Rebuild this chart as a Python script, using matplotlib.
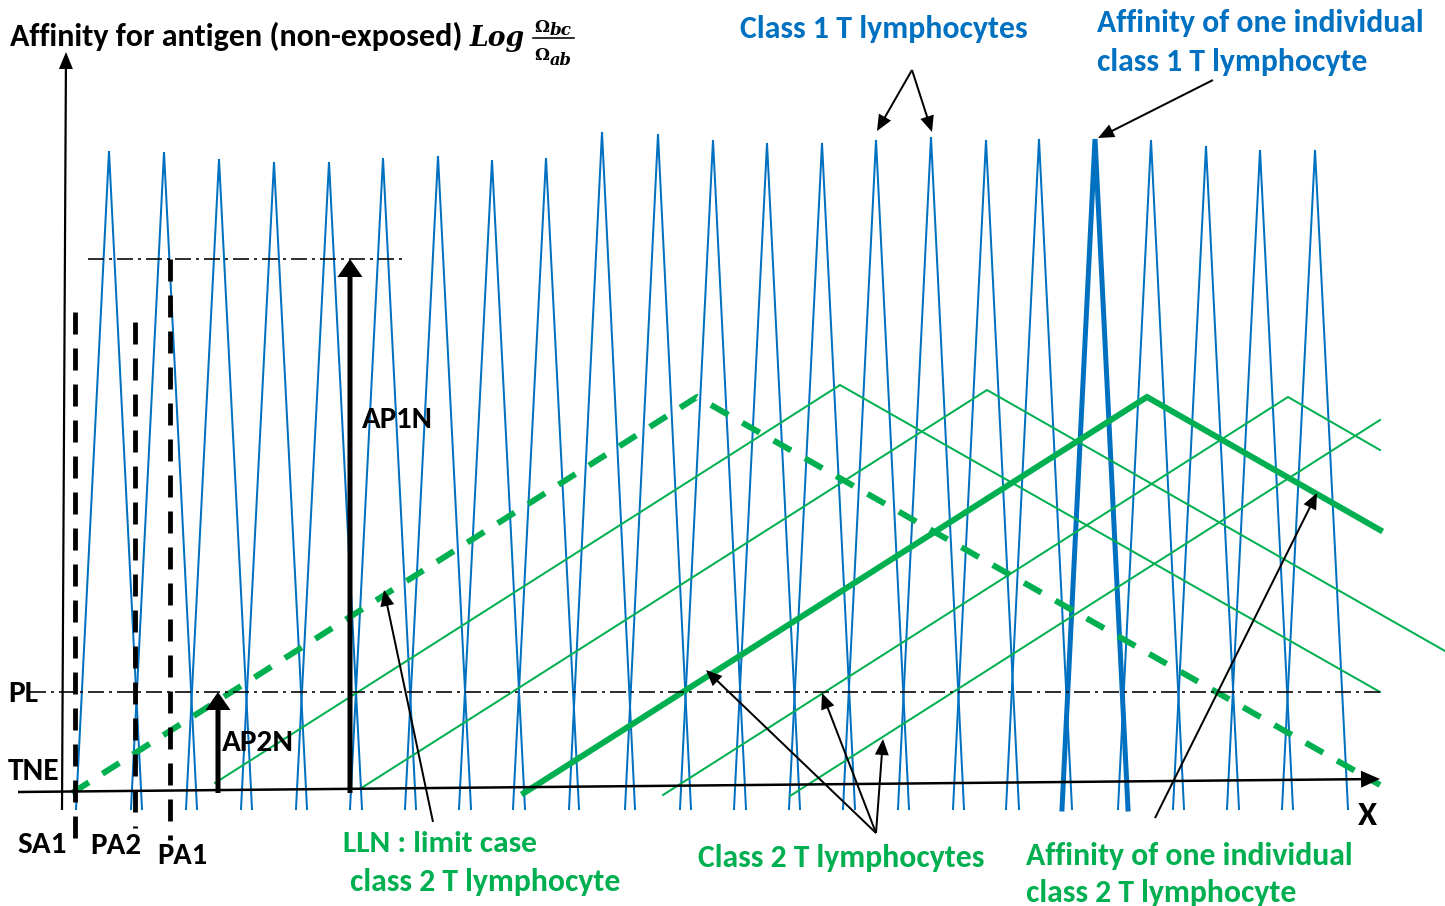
import matplotlib
matplotlib.use('Agg')
import matplotlib.pyplot as plt
from matplotlib import font_manager as fm

plt.rcParams['lines.scale_dashes'] = False

# ------------------------------------------------------------------ data
# class 1 T lymphocytes : narrow spikes (peak positions / peak heights, image units)
class1_peak_x = [109, 164, 219, 274, 329, 383, 438, 492, 546, 602, 658, 713,
                 767, 822, 876, 931, 986, 1039, 1095, 1151, 1206, 1260, 1315]
class1_peak_y = [151, 152, 159, 162, 162, 158, 156, 160, 158, 132, 134, 140,
                 143, 143, 140, 137, 140, 139, 139, 140, 146, 150, 150]
class1_individual = 18          # index of the highlighted individual
class1_base_y = 809
class1_base_halfwidth = 33

# class 2 T lymphocytes : broad tents
lln_x = [72, 697, 1380]
lln_y = [793, 397, 785]
class2_x = [[215, 840, 1380], [363, 987, 1445], [663, 1288, 1380], [790, 1380]]
class2_y = [[783, 385, 692], [787, 390, 651], [795, 397, 450], [796, 420]]
indiv2_x = [524, 1147, 1380]
indiv2_y = [793, 397, 530]

# levels
pl_level = 692
ap1n_level = 259
x_axis_x = [18, 1380]
x_axis_y = [792, 779]
y_axis_x = [62, 66]
y_axis_y = [810, 52]

# thresholds (vertical dashed)
thr_names = ['SA1', 'PA2', 'PA1']
thr_x = [75, 135, 170]
thr_top = [312, 322, 259]
thr_bottom = [842, 828, 840]

# AP arrows
ap_names = ['AP2N', 'AP1N']
ap_x = [218, 350]
ap_top = [pl_level, ap1n_level]

# annotation arrows (tail -> tip)
ann_tail = [(912, 70), (912, 70), (1213, 80), (433, 822),
            (876, 833), (876, 833), (876, 833), (1155, 818)]
ann_tip = [(877, 131), (932, 132), (1098, 138), (384, 590),
           (706, 670), (822, 693), (883, 739), (1317, 493)]

BLUE = '#0070C0'
GREEN = '#00B050'
PX = 0.72  # px -> pt at 100 dpi

avail = {f.name for f in fm.fontManager.ttflist}
SANS = 'Carlito' if 'Carlito' in avail else 'Lato'

fig = plt.figure(figsize=(14.45, 9.06), dpi=100)
ax = fig.add_axes([0, 0, 1, 1])
ax.set_xlim(0, 1445)
ax.set_ylim(906, 0)
ax.axis('off')

# class 1 spikes
for i, (px, py) in enumerate(zip(class1_peak_x, class1_peak_y)):
    lw = 5 if i == class1_individual else 2
    ax.plot([px - class1_base_halfwidth, px, px + class1_base_halfwidth],
            [class1_base_y, py, class1_base_y], color=BLUE, lw=lw * PX,
            solid_joinstyle='miter', zorder=2)

# class 2 tents
for xs, ys in zip(class2_x, class2_y):
    ax.plot(xs, ys, color=GREEN, lw=2 * PX, zorder=3, solid_joinstyle='miter')
ax.plot(indiv2_x, indiv2_y, color=GREEN, lw=6 * PX, zorder=3, solid_joinstyle='miter')
ax.plot(lln_x, lln_y, color=GREEN, lw=6 * PX, zorder=3,
        dashes=(20 * PX, 16 * PX))

# dash-dot levels
dd = (16 * PX, 5 * PX, 3 * PX, 5 * PX)
ax.plot([30, 1380], [pl_level, pl_level], color='black', lw=1.6 * PX, dashes=dd, zorder=4)
ax.plot([88, 407], [ap1n_level, ap1n_level], color='black', lw=1.6 * PX, dashes=dd, zorder=4)

# threshold dashed verticals
for x, t, b in zip(thr_x, thr_top, thr_bottom):
    ax.plot([x, x], [t, b], color='black', lw=4.8 * PX, dashes=(22 * PX, 14 * PX), zorder=5)

# axes arrows
ax.arrow(x_axis_x[0], x_axis_y[0], x_axis_x[1] - x_axis_x[0], x_axis_y[1] - x_axis_y[0],
         width=2.5, head_width=17, head_length=19, length_includes_head=True,
         color='black', lw=0, zorder=6)
ax.arrow(y_axis_x[0], y_axis_y[0], y_axis_x[1] - y_axis_x[0], y_axis_y[1] - y_axis_y[0],
         width=2.2, head_width=14, head_length=17, length_includes_head=True,
         color='black', lw=0, zorder=6)

# AP arrows
for x, top in zip(ap_x, ap_top):
    ax.arrow(x, 793, 0, top - 793, width=5, head_width=25, head_length=18,
             length_includes_head=True, color='black', lw=0, zorder=6)

# annotation arrows
for (x0, y0), (x1, y1) in zip(ann_tail, ann_tip):
    ax.arrow(x0, y0, x1 - x0, y1 - y0, width=2, head_width=14, head_length=16,
             length_includes_head=True, color='black', lw=0, zorder=7)

# ------------------------------------------------------------------ text
renderer = fig.canvas.get_renderer()


def label(x, y, s, w, color='black', family=None, style='normal', ha='left'):
    t = ax.text(x, y, s, fontsize=10, color=color, fontweight='bold',
                family=family or SANS, style=style, ha=ha, va='baseline', zorder=8)
    bb = t.get_window_extent(renderer=renderer)
    t.set_fontsize(10 * w / bb.width)
    return t


label(10, 46, 'Affinity for antigen (non-exposed)', 452)
label(470, 46, 'Log', 55, family='DejaVu Serif', style='italic')
label(534, 32, 'Ω', 15, family='DejaVu Serif')
label(550, 35, 'bc', 22, family='DejaVu Serif', style='italic')
ax.plot([533, 574], [38, 38], color='black', lw=1.6 * PX)
label(534, 60, 'Ω', 15, family='DejaVu Serif')
label(550, 65, 'ab', 22, family='DejaVu Serif', style='italic')

label(740, 38, 'Class 1 T lymphocytes', 288, BLUE)
label(1097, 32, 'Affinity of one individual', 328, BLUE)
label(1097, 71, 'class 1 T lymphocyte', 271, BLUE)

label(362, 428, 'AP1N', 71)
label(222, 751, 'AP2N', 72)
label(8, 702, 'PL', 30)
label(8, 780, 'TNE', 52)
label(17, 853, 'SA1', 49)
label(90, 854, 'PA2', 51)
label(157, 864, 'PA1', 50)
label(1358, 825, 'X', 19)

label(343, 852, 'LLN : limit case', 195, GREEN)
label(350, 891, 'class 2 T lymphocyte', 271, GREEN)
label(698, 867, 'Class 2 T lymphocytes', 287, GREEN)
label(1026, 865, 'Affinity of one individual', 328, GREEN)
label(1026, 902, 'class 2 T lymphocyte', 271, GREEN)

fig.savefig('out.png', dpi=100)
